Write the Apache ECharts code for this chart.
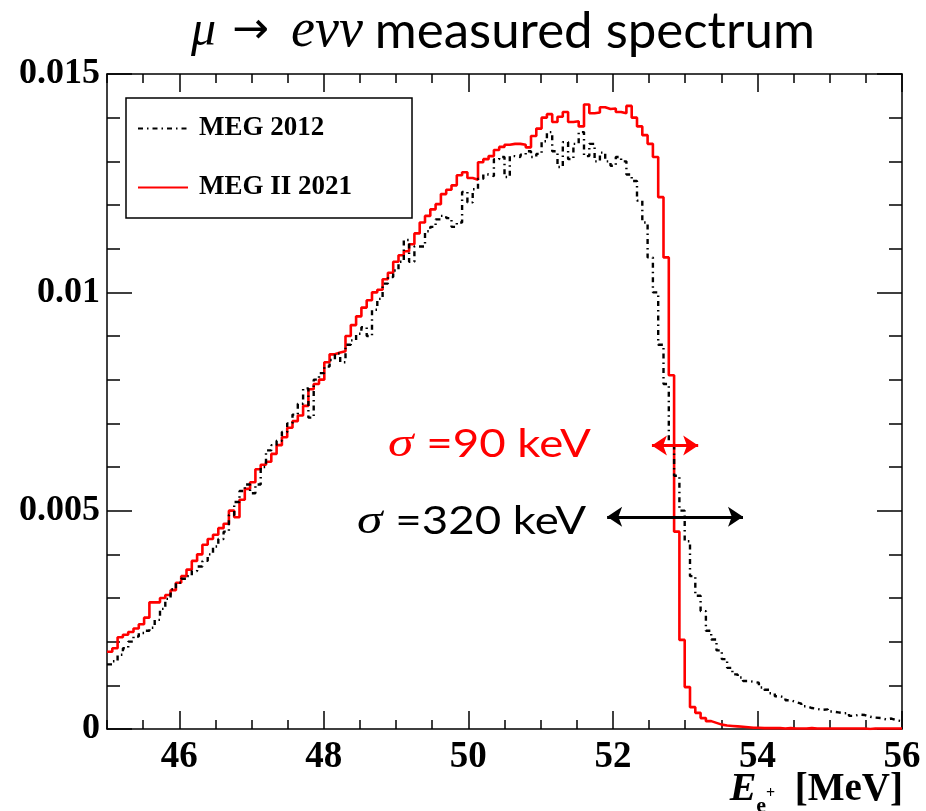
<!DOCTYPE html>
<html>
<head>
<meta charset="utf-8">
<script src="https://cdn.jsdelivr.net/npm/echarts@6.0.0/dist/echarts.min.js"></script>
<style>
html,body{margin:0;padding:0;background:#fff;}
#chart{width:926px;height:811px;}
</style>
</head>
<body>
<div id="chart"></div>
<script>
// ---- data ----
const binStart = 45;
const binEnd = 56;
const xMajorTicks = [46, 48, 50, 52, 54, 56];
const yTicks = [0, 0.005, 0.01, 0.015];
const seriesNames = ['MEG 2012', 'MEG II 2021'];

// MEG II 2021 (red), 150 bins from 45 to 56 MeV
const meg2021 = [
0.00177,0.00185,0.00210,0.00216,0.00222,0.00230,0.00240,0.00255,0.00290,0.00290,
0.00300,0.00307,0.00318,0.00335,0.00350,0.00365,0.00385,0.00400,0.00422,0.00435,
0.00445,0.00460,0.00470,0.00500,0.00485,0.00525,0.00550,0.00565,0.00595,0.00605,
0.00612,0.00630,0.00650,0.00668,0.00690,0.00705,0.00718,0.00740,0.00778,0.00790,
0.00800,0.00840,0.00858,0.00862,0.00865,0.00900,0.00925,0.00945,0.00965,0.00982,
0.01000,0.01006,0.01030,0.01045,0.01070,0.01085,0.01094,0.01110,0.01135,0.01160,
0.01175,0.01190,0.01202,0.01225,0.01235,0.01245,0.01268,0.01275,0.01262,0.01258,
0.01298,0.01305,0.01312,0.01326,0.01333,0.01338,0.01340,0.01340,0.01338,0.01332,
0.01358,0.01375,0.01400,0.01408,0.01390,0.01402,0.01413,0.01390,0.01392,0.01380,
0.01430,0.01410,0.01412,0.01424,0.01420,0.01421,0.01413,0.01410,0.01427,0.01400,
0.01380,0.01360,0.01340,0.01310,0.01218,0.01080,0.00810,0.00452,0.00204,0.00096,
0.00050,0.00037,0.00025,0.00018,0.00014,0.00010,0.00008,0.00007,0.00006,0.00005,
0.00004,0.00003,0.00003,0.00002,0.00002,0.00002,0.00002,0.00001,0.00002,0.00001,
0.00001,0.00001,0.00002,0.00001,0.00001,0.00001,0.00001,0.00001,0.00001,0.00001,
0.00001,0.00001,0.00001,0.00000,0.00001,0.00001,0.00001,0.00001,0.00001,0.00001
];

// MEG 2012 (black dash-dot), 150 bins from 45 to 56 MeV
const meg2012 = [
0.00148,0.00155,0.00170,0.00185,0.00200,0.00212,0.00220,0.00225,0.00232,0.00250,
0.00275,0.00298,0.00320,0.00335,0.00344,0.00350,0.00362,0.00372,0.00385,0.00400,
0.00418,0.00435,0.00452,0.00490,0.00520,0.00545,0.00560,0.00540,0.00560,0.00600,
0.00638,0.00650,0.00660,0.00680,0.00700,0.00720,0.00745,0.00780,0.00713,0.00800,
0.00815,0.00830,0.00845,0.00860,0.00840,0.00880,0.00890,0.00905,0.00920,0.00900,
0.00960,0.00985,0.01020,0.01035,0.01050,0.01070,0.01120,0.01070,0.01105,0.01105,
0.01140,0.01150,0.01167,0.01175,0.01170,0.01150,0.01160,0.01230,0.01206,0.01236,
0.01260,0.01270,0.01266,0.01305,0.01310,0.01264,0.01312,0.01310,0.01315,0.01323,
0.01310,0.01317,0.01346,0.01367,0.01323,0.01287,0.01344,0.01305,0.01340,0.01367,
0.01312,0.01340,0.01300,0.01320,0.01300,0.01290,0.01310,0.01300,0.01270,0.01255,
0.01210,0.01160,0.01080,0.01000,0.00880,0.00790,0.00650,0.00580,0.00500,0.00430,
0.00350,0.00305,0.00270,0.00225,0.00205,0.00180,0.00160,0.00140,0.00125,0.00118,
0.00110,0.00108,0.00106,0.00095,0.00090,0.00082,0.00075,0.00072,0.00066,0.00062,
0.00058,0.00052,0.00048,0.00046,0.00044,0.00045,0.00040,0.00038,0.00036,0.00037,
0.00030,0.00033,0.00032,0.00028,0.00026,0.00025,0.00022,0.00024,0.00020,0.00018
];

// resolution arrows: [xFrom, xTo, y]
const arrow2021 = [52.54, 53.18, 0.00649];
const arrow2012 = [51.92, 53.80, 0.00486];
const label2021 = '=90 keV';
const label2012 = '=320 keV';

// ---- build ----
function histPoints(vals) {
  const w = (binEnd - binStart) / vals.length;
  const pts = vals.map((v, i) => [binStart + i * w, v]);
  pts.push([binEnd, vals[vals.length - 1]]);
  return pts;
}

const serifBold = {fontFamily: 'Liberation Serif', fontWeight: 'bold', color: '#000'};
const frameLine = {show: true, onZero: false, lineStyle: {color: '#000', width: 1.5}};

function xAxisDef(pos, major, showLabel) {
  const a = {
    type: 'value', position: pos, min: binStart, max: binEnd,
    axisLine: major ? {show: false, onZero: false} : frameLine,
    splitLine: {show: false},
    axisTick: {show: true, inside: true, length: major ? 18 : 9, lineStyle: {color: '#000', width: 1.5}},
    axisLabel: {show: false}
  };
  if (major) {
    a.axisTick.customValues = xMajorTicks;
  } else {
    a.interval = 0.5;
  }
  if (showLabel) {
    a.axisLabel = Object.assign({show: true, margin: 10, fontSize: 37,
      customValues: xMajorTicks, formatter: v => String(v)}, serifBold);
  }
  return a;
}

function yAxisDef(pos, showLabel) {
  return {
    type: 'value', position: pos, min: yTicks[0], max: yTicks[yTicks.length - 1],
    interval: yTicks[1] - yTicks[0],
    axisLine: frameLine,
    splitLine: {show: false},
    axisTick: {show: true, inside: true, length: 25, lineStyle: {color: '#000', width: 1.5}},
    minorTick: {show: true, splitNumber: 5, length: 13, lineStyle: {color: '#000', width: 1.5}},
    axisLabel: showLabel ? Object.assign({show: true, margin: 7, fontSize: 36}, serifBold) : {show: false}
  };
}

function annot(x, y, label, color) {
  return {
    type: 'text', x: x, y: y, z: 10, scaleX: 1.2,
    style: {
      text: '{s|σ }{n|' + label + '}',
      verticalAlign: 'middle', align: 'left',
      rich: {
        s: {fontFamily: 'Liberation Serif', fontStyle: 'italic', fontSize: 43, fill: color},
        n: {fontFamily: 'Lato', fontSize: 38, fill: color}
      }
    }
  };
}

const chart = echarts.init(document.getElementById('chart'), null, {renderer: 'canvas'});
chart.setOption({
  animation: false,
  backgroundColor: '#fff',
  title: {
    text: '{i|μ}{a|→}{i2|eνν}{t|measured spectrum}',
    left: 186, top: 0,
    textStyle: {
      fontWeight: 'normal',
      rich: {
        i: {fontFamily: 'Liberation Serif', fontStyle: 'italic', fontWeight: 'normal', fontSize: 50, color: '#000'},
        a: {fontFamily: 'DejaVu Sans', fontWeight: 'normal', fontSize: 44, color: '#000', padding: [0, 22, 0, 16]},
        i2: {fontFamily: 'Liberation Serif', fontStyle: 'italic', fontWeight: 'normal', fontSize: 54, color: '#000'},
        t: {fontFamily: 'Lato', fontWeight: 'normal', fontSize: 51, color: '#000', padding: [0, 0, 0, 12]}
      }
    }
  },
  grid: {left: 107, right: 24, top: 74, bottom: 82, containLabel: false, outerBoundsMode: 'none'},
  legend: {
    data: seriesNames,
    orient: 'vertical',
    left: 126, top: 98,
    itemWidth: 50, itemHeight: 20, itemGap: 32,
    padding: [17, 60, 17, 11],
    borderColor: '#000', borderWidth: 1.5, borderRadius: 0,
    itemStyle: {opacity: 0},
    textStyle: Object.assign({fontSize: 27, padding: [0, 0, 0, 6]}, serifBold)
  },
  xAxis: [
    xAxisDef('bottom', false, true),
    xAxisDef('bottom', true, false),
    xAxisDef('top', false, false),
    xAxisDef('top', true, false)
  ],
  yAxis: [
    yAxisDef('left', true),
    yAxisDef('right', false)
  ],
  series: [
    {
      name: seriesNames[1], type: 'line', step: 'end', xAxisIndex: 0, yAxisIndex: 0,
      symbol: 'none', data: histPoints(meg2021),
      lineStyle: {color: '#ff0000', width: 2.6}, itemStyle: {color: '#ff0000'},
      z: 3,
      markLine: {
        silent: true, symbol: ['arrow', 'arrow'], symbolSize: [15, 15],
        label: {show: false},
        lineStyle: {color: '#ff0000', width: 3, type: 'solid'},
        data: [[{coord: [arrow2021[0], arrow2021[2]]}, {coord: [arrow2021[1], arrow2021[2]]}]]
      }
    },
    {
      name: seriesNames[0], type: 'line', step: 'end', xAxisIndex: 0, yAxisIndex: 0,
      symbol: 'none', data: histPoints(meg2012),
      lineStyle: {color: '#000', width: 2.4, type: [5, 4, 1.5, 4]}, itemStyle: {color: '#000'},
      z: 4,
      markLine: {
        silent: true, symbol: ['arrow', 'arrow'], symbolSize: [15, 15],
        label: {show: false},
        lineStyle: {color: '#000', width: 3, type: 'solid'},
        data: [[{coord: [arrow2012[0], arrow2012[2]]}, {coord: [arrow2012[1], arrow2012[2]]}]]
      }
    }
  ],
  graphic: [
    annot(388, 445, label2021, '#ff0000'),
    annot(357, 522, label2012, '#000'),
    {
      type: 'text', x: 903, y: 770, z: 10,
      style: {
        text: '{E|E}{sub|e}{sup|+}{u|  [MeV]}',
        align: 'right', verticalAlign: 'top',
        rich: {
          E: {fontFamily: 'Liberation Serif', fontWeight: 'bold', fontStyle: 'italic', fontSize: 40, fill: '#000', verticalAlign: 'top', lineHeight: 42},
          sub: {fontFamily: 'Liberation Serif', fontWeight: 'bold', fontSize: 22, fill: '#000', verticalAlign: 'top', lineHeight: 22, padding: [25, 0, 0, 0]},
          sup: {fontFamily: 'Liberation Serif', fontWeight: 'bold', fontSize: 16, fill: '#000', verticalAlign: 'top', lineHeight: 16, padding: [16, 0, 0, 0]},
          u: {fontFamily: 'Liberation Serif', fontWeight: 'bold', fontSize: 39, fill: '#000', verticalAlign: 'top', lineHeight: 42}
        }
      }
    }
  ]
});
</script>
</body>
</html>
